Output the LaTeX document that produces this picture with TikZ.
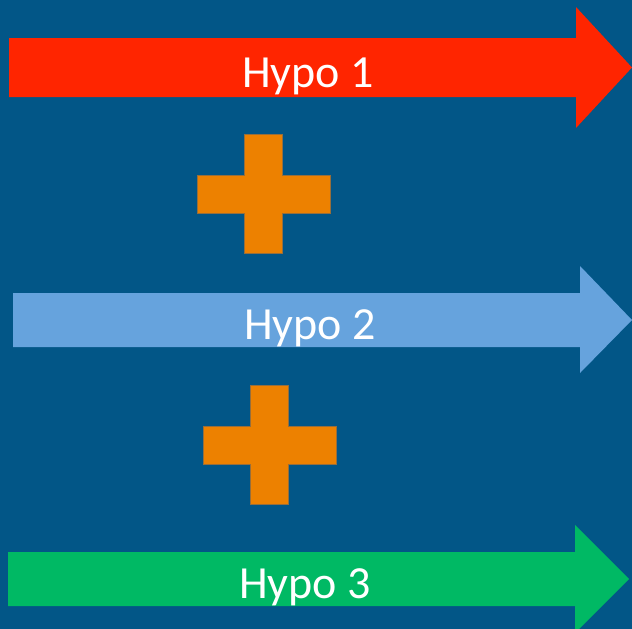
\documentclass[tikz,border=0pt]{standalone}
\usepackage{fontspec}
\setmainfont{Carlito}

\definecolor{slide}{RGB}{2,86,135}
\definecolor{hypored}{RGB}{255,37,0}
\definecolor{hypoblue}{RGB}{102,163,221}
\definecolor{hypogreen}{RGB}{0,185,100}
\definecolor{plusorange}{RGB}{237,129,0}
\definecolor{plusedge}{RGB}{150,110,60}

\begin{document}
\begin{tikzpicture}[x=1pt,y=-1pt]
\tikzstyle{hypo}=[text=white, font=\fontsize{46}{50}\selectfont, anchor=base, inner sep=0pt]
\tikzstyle{plus}=[fill=plusorange, draw=plusedge, line width=0.6pt]

\useasboundingbox (0,0) rectangle (632,629);
\fill[slide] (0,0) rectangle (632,629);

% three block arrows
\fill[hypored] (9,38) -- (576,38) -- (576,7) -- (632,67.5)
    -- (576,128) -- (576,97) -- (9,97) -- cycle;
\fill[hypoblue] (13,293) -- (580,293) -- (580,266) -- (632,320)
    -- (580,373) -- (580,347) -- (13,347) -- cycle;
\fill[hypogreen] (8,552) -- (575,552) -- (575,525) -- (629,579)
    -- (575,633) -- (575,606) -- (8,606) -- cycle;

\node[hypo] (h1) at (308,87) {Hypo 1};
\node[hypo] (h2) at (310,339) {Hypo 2};
\node[hypo] (h3) at (305,598) {Hypo 3};

% plus signs between the arrows
\draw[plus] (244,134) -- (282,134) -- (282,175) -- (330,175) -- (330,213)
    -- (282,213) -- (282,253) -- (244,253) -- (244,213) -- (197,213)
    -- (197,175) -- (244,175) -- cycle;
\draw[plus] (250,385) -- (288,385) -- (288,426) -- (336,426) -- (336,464)
    -- (288,464) -- (288,504) -- (250,504) -- (250,464) -- (203,464)
    -- (203,426) -- (250,426) -- cycle;

\end{tikzpicture}
\end{document}
